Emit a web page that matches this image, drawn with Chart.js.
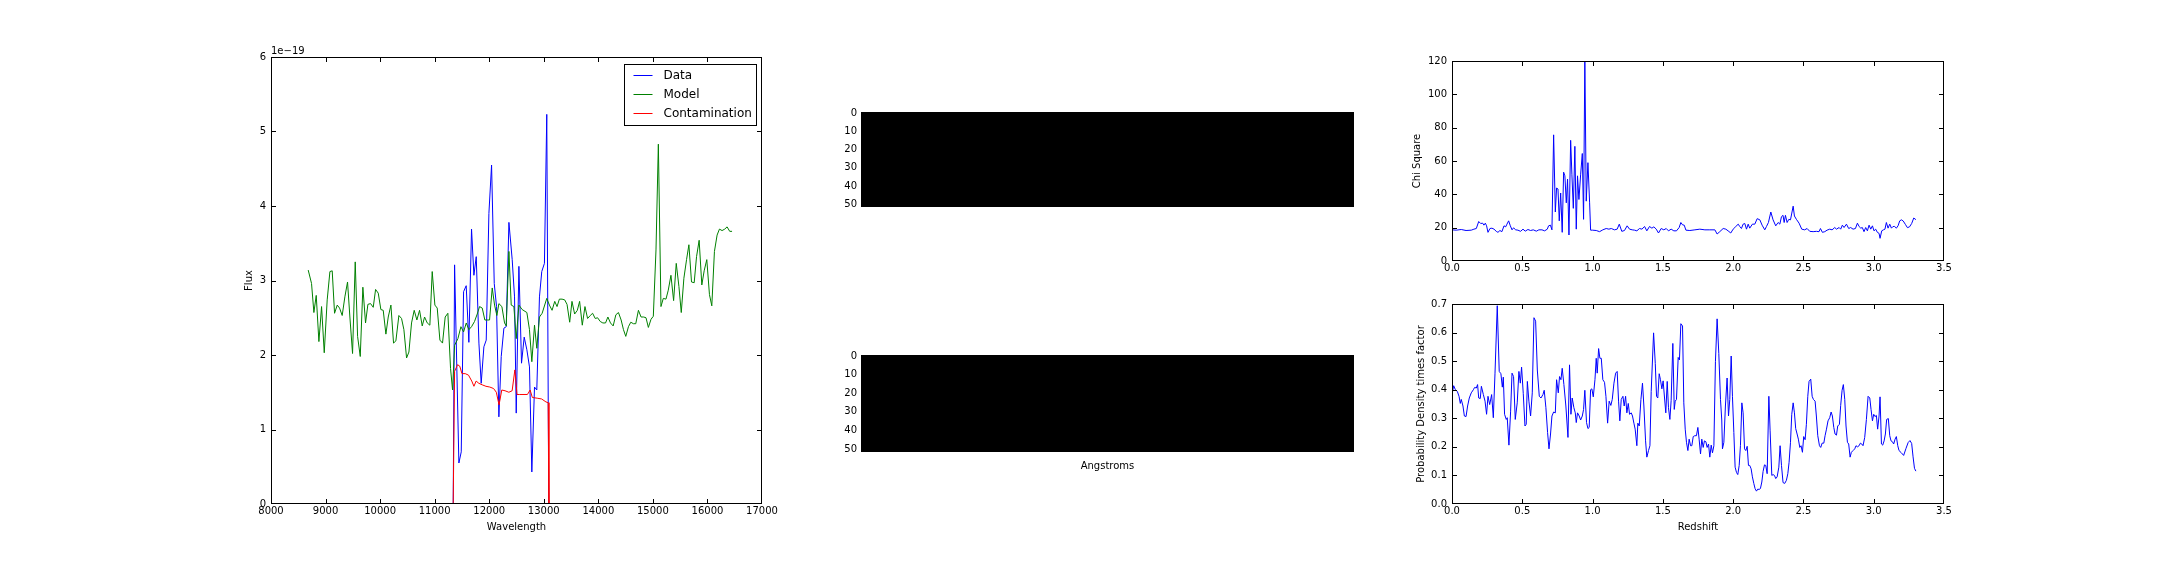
<!DOCTYPE html>
<html><head><meta charset="utf-8">
<script src="https://cdn.jsdelivr.net/npm/chart.js@4.4.1/dist/chart.umd.min.js"></script>
<style>
html,body{margin:0;padding:0;background:#fff;}
#fig{position:relative;width:2160px;height:576px;background:#fff;overflow:hidden;}
canvas{position:absolute;}
</style></head><body><div id="fig"></div>
<script>
// ---------------- DATA ----------------
// Spectrum panel (flux in units of 1e-19)
const fluxOffsetLabel = '1e\u221219';
const modelWavelength = [8682,8743,8786,8829,8878,8927,8976,9030,9080,9122,9165,9214,9257,9305,9354,9403,9446,9495,9544,9587,9636,9684,9733,9776,9825,9874,9917,9966,10014,10057,10106,10149,10198,10246,10289,10344,10393,10436,10485,10528,10576,10625,10674,10723,10772,10815,10864,10912,10955,11004,11047,11096,11144,11193,11242,11291,11328,11365,11426,11481,11530,11579,11627,11676,11731,11780,11823,11872,11920,11963,12006,12055,12098,12140,12177,12232,12281,12312,12361,12403,12452,
12495,12544,12604,12690,12738,12781,12830,12872,12921,12970,13055,13103,13152,13201,13243,13286,13335,13383,13426,13475,13517,13566,13615,13657,13706,13755,13803,13852,13895,13943,13986,14035,14083,14132,14175,14223,14272,14321,14369,14418,14461,14503,14552,14595,14643,14686,14735,14783,14832,14874,14917,14966,15008,15057,15100,15148,15191,15240,15282,15331,15380,15428,15477,15520,15568,15617,15660,15708,15757,15800,15848,15897,15940,15988,16037,16080,16128,16177,16220,16268,16317,16360,16408,16451];
const modelFlux = [3.14,2.96,2.57,2.80,2.18,2.65,2.03,2.74,3.12,3.13,2.56,2.67,2.63,2.53,2.78,2.98,2.51,2.02,3.25,2.25,1.98,2.91,2.43,2.68,2.69,2.64,2.88,2.83,2.61,2.60,2.28,2.51,2.67,2.16,2.19,2.53,2.49,2.34,1.96,2.04,2.43,2.60,2.47,2.60,2.39,2.51,2.43,2.40,3.12,2.67,2.63,2.20,2.16,2.51,2.56,1.82,1.53,2.13,2.22,2.38,2.31,2.43,2.34,2.38,2.45,2.55,2.65,2.63,2.47,2.47,2.47,2.90,2.67,2.53,2.69,2.65,2.43,2.39,3.39,2.67,2.65,
2.22,2.67,2.61,2.57,2.34,1.91,2.40,2.09,2.51,2.56,2.76,2.67,2.60,2.72,2.65,2.75,2.75,2.74,2.68,2.44,2.72,2.55,2.60,2.72,2.40,2.65,2.49,2.53,2.56,2.49,2.50,2.45,2.43,2.43,2.51,2.43,2.39,2.54,2.57,2.47,2.34,2.25,2.38,2.44,2.42,2.42,2.60,2.51,2.51,2.50,2.37,2.48,2.52,3.41,4.83,2.65,2.76,2.75,2.87,3.07,2.73,3.23,2.92,2.57,3.03,3.28,3.48,2.98,2.97,3.32,3.54,2.94,3.13,3.28,2.81,2.66,3.39,3.61,3.69,3.67,3.69,3.72,3.66,3.66];
const dataWavelength = [8682,11340,11365,11444,11487,11530,11578,11627,11676,11719,11762,11811,11853,11902,11945,11994,12043,12092,12134,12177,12220,12269,12312,12361,12421,12464,12495,12544,12592,12641,12690,12738,12781,12830,12872,12921,12963,13012,13055,13091,16451];
const dataFlux = [0,0,3.21,0.55,0.70,2.85,2.93,2.17,3.69,3.07,3.32,2.16,1.62,2.11,2.20,3.90,4.55,2.96,2.65,1.17,1.98,2.36,2.38,3.78,3.28,2.78,1.22,3.19,1.89,2.24,2.07,1.84,0.43,1.57,1.53,2.78,3.12,3.23,5.23,0,0];
const contamWavelength = [8682,11340,11365,11420,11460,11500,11560,11620,11680,11720,11760,11810,11870,11940,12010,12080,12130,12180,12230,12290,12360,12420,12470,12510,12560,12700,12750,12790,12880,12960,13040,13080,13095,16451];
const contamFlux = [0,0,1.78,1.87,1.85,1.75,1.75,1.73,1.65,1.58,1.65,1.62,1.60,1.58,1.57,1.55,1.50,1.33,1.53,1.52,1.50,1.52,1.80,1.47,1.47,1.47,1.53,1.43,1.42,1.41,1.37,1.36,0,0];
const wavelengthTicks = [8000,9000,10000,11000,12000,13000,14000,15000,16000,17000];
const fluxTicks = [0,1,2,3,4,5,6];

// Image panels (all-black 2D images)
const imageRows = 52;
const imageCols = 259;
const imageRowTicks = [0,10,20,30,40,50];

// Redshift panels
const chiRedshift = [0.000,0.030,0.066,0.100,0.137,0.156,0.173,0.190,0.204,0.218,0.227,0.237,0.246,0.256,0.270,0.284,0.299,0.315,0.327,0.341,0.355,0.370,0.382,0.391,0.403,0.415,0.427,0.438,0.453,0.469,0.488,0.505,0.521,0.540,0.559,0.578,0.600,0.618,0.640,0.659,0.678,0.687,0.700,0.711,0.723,0.735,0.744,0.754,0.763,0.773,0.784,0.794,0.803,0.813,0.822,0.832,0.844,0.853,0.863,0.874,0.884,0.893,0.903,0.915,0.927,0.936,0.945,0.955,0.967,0.979,0.986,1.000,1.026,1.050,1.073,1.097,1.116,1.133,1.156,1.175,1.190,1.208,1.227,1.246,1.263,1.282,1.299,1.315,1.334,1.351,1.370,1.386,1.405,1.422,1.436,1.453,1.469,1.488,1.507,1.524,1.540,1.559,1.578,
1.597,1.616,1.628,1.640,1.652,1.664,1.692,1.728,1.763,1.799,1.834,1.870,1.886,1.905,1.929,1.948,1.964,1.983,2.000,2.019,2.036,2.047,2.059,2.071,2.083,2.095,2.107,2.118,2.137,2.154,2.171,2.190,2.206,2.225,2.237,2.251,2.268,2.284,2.303,2.320,2.332,2.344,2.355,2.363,2.372,2.384,2.396,2.408,2.427,2.436,2.450,2.469,2.488,2.509,2.526,2.545,2.569,2.592,2.611,2.621,2.635,2.652,2.668,2.687,2.704,2.723,2.735,2.754,2.765,2.777,2.789,2.806,2.822,2.836,2.853,2.870,2.884,2.896,2.908,2.919,2.931,2.943,2.955,2.967,2.979,2.991,3.002,3.014,3.026,3.038,3.045,3.057,3.069,3.080,3.090,3.102,3.114,3.126,3.137,3.149,3.161,3.173,3.185,3.197,3.210,3.225,3.240,3.255,3.270,3.285,3.300];
const chiSquare = [18.7,18.5,18.9,18.3,18.5,19.1,19.5,23.7,22.5,22.7,21.5,22.7,21.1,17.2,19.5,19.7,19.1,17.8,17.2,18.3,17.6,21.1,20.5,22.1,24.1,21.1,18.7,19.9,18.7,18.5,17.8,19.1,17.9,18.9,18.3,18.7,17.9,18.7,18.7,18.1,19.1,21.1,21.5,18.7,75.7,29.4,43.8,43.2,24.1,40.8,17.2,53.3,51.1,34.9,49.1,15.6,72.4,51.7,31.6,68.8,19.1,51.1,36.9,51.7,64.5,25.0,122,35.9,59.0,34.9,18.5,18.5,18.3,17.6,18.7,19.5,19.1,19.5,18.7,19.1,22.1,17.8,18.3,21.1,19.1,18.7,18.5,18.1,19.5,19.1,20.7,18.1,20.7,19.7,20.5,19.1,16.8,19.5,18.7,19.5,18.1,19.1,18.1,
18.1,20.1,23.1,21.7,21.5,18.5,18.3,18.7,19.1,18.7,18.7,18.7,16.2,17.6,19.5,19.1,18.1,16.8,19.1,20.7,22.1,20.7,19.5,22.1,22.5,19.1,22.1,19.7,22.1,22.1,25.4,24.7,21.5,18.7,20.7,23.1,29.4,24.7,21.1,23.1,22.1,26.6,27.4,23.1,27.4,23.1,25.0,24.7,32.9,27.0,25.0,22.7,19.1,18.7,19.5,17.8,17.6,17.8,17.6,19.5,17.2,17.6,18.5,19.1,18.7,20.1,19.1,20.1,19.1,21.5,20.1,22.1,19.5,20.1,19.1,19.5,22.7,20.7,19.7,20.1,17.6,20.1,18.1,21.5,19.1,21.1,18.1,19.1,17.2,16.6,13.6,18.1,18.7,19.1,23.1,19.7,22.1,19.7,20.7,20.7,19.7,21.1,24.1,24.7,24.0,22.0,20.0,20.5,22.5,25.8,24.8];
const pdfRedshift = [0.000,0.012,0.024,0.038,0.050,0.059,0.066,0.078,0.088,0.100,0.111,0.123,0.137,0.152,0.161,0.173,0.182,0.190,0.201,0.209,0.223,0.235,0.246,0.256,0.268,0.282,0.294,0.306,0.322,0.336,0.348,0.358,0.365,0.374,0.386,0.393,0.405,0.417,0.427,0.438,0.450,0.464,0.476,0.486,0.495,0.507,0.519,0.528,0.536,0.547,0.559,0.571,0.583,0.595,0.607,0.621,0.633,0.647,0.656,0.668,0.680,0.690,0.701,0.711,0.723,0.735,0.744,0.756,0.765,0.775,0.784,0.796,0.810,0.825,0.836,0.846,0.855,0.867,0.877,0.884,0.893,0.905,0.915,0.927,0.936,0.945,0.957,0.967,0.976,0.986,0.995,1.005,1.017,1.026,1.033,1.043,1.052,1.062,1.073,1.085,1.095,1.107,1.118,1.130,1.140,1.152,1.164,1.175,1.185,1.194,1.204,1.216,1.225,1.235,1.244,1.254,1.263,1.275,1.284,1.294,1.303,1.315,1.322,1.332,1.344,1.355,1.365,1.377,1.386,1.398,1.408,1.417,1.434,1.446,1.455,1.464,1.474,1.483,1.493,1.502,1.512,1.521,1.531,1.540,1.550,1.559,1.571,1.581,
1.588,1.597,1.609,1.618,1.628,1.640,1.649,1.659,1.668,1.678,1.687,1.697,1.706,1.716,1.727,1.739,1.749,1.758,1.768,1.777,1.787,1.796,1.806,1.815,1.825,1.834,1.844,1.853,1.863,1.874,1.886,1.898,1.910,1.919,1.924,1.934,1.945,1.957,1.967,1.976,1.986,1.995,2.005,2.014,2.024,2.033,2.043,2.052,2.062,2.071,2.081,2.090,2.100,2.109,2.118,2.128,2.137,2.147,2.156,2.166,2.175,2.185,2.194,2.204,2.213,2.223,2.232,2.242,2.254,2.263,2.275,2.284,2.294,2.303,2.313,2.325,2.334,2.344,2.355,2.367,2.379,2.389,2.398,2.408,2.417,2.427,2.436,2.445,2.455,2.464,2.474,2.483,2.493,2.502,2.512,2.521,2.531,2.540,2.552,2.562,2.571,2.583,2.592,2.602,2.614,2.623,2.633,2.645,2.654,2.664,2.675,2.687,2.697,2.706,2.716,2.725,2.735,2.744,2.756,2.765,2.775,2.784,2.794,2.803,2.813,2.822,2.832,2.841,2.853,2.865,2.874,2.884,2.896,2.905,2.915,2.924,2.936,2.948,2.960,2.972,2.981,2.991,3.000,3.009,3.019,3.028,3.038,3.045,3.055,3.064,3.074,3.083,3.092,3.104,3.114,3.123,3.133,3.142,3.152,3.161,3.171,3.180,3.195,3.213,3.230,3.245,3.258,3.270,3.280,3.290,3.300];
const pdfValue = [0.383,0.414,0.400,0.394,0.377,0.352,0.366,0.343,0.308,0.306,0.343,0.371,0.389,0.400,0.408,0.406,0.418,0.371,0.369,0.412,0.383,0.360,0.314,0.377,0.348,0.383,0.302,0.458,0.694,0.464,0.456,0.409,0.444,0.314,0.296,0.302,0.206,0.325,0.458,0.446,0.296,0.354,0.464,0.423,0.479,0.386,0.273,0.279,0.429,0.360,0.308,0.389,0.652,0.640,0.469,0.377,0.371,0.383,0.398,0.337,0.250,0.193,0.245,0.308,0.322,0.319,0.435,0.389,0.446,0.435,0.475,0.418,0.343,0.233,0.487,0.314,0.371,0.337,0.319,0.285,0.319,0.308,0.294,0.308,0.331,0.398,0.285,0.264,0.268,0.400,0.403,0.375,0.435,0.510,0.458,0.544,0.510,0.510,0.435,0.426,0.377,0.283,0.360,0.345,0.366,0.423,0.458,0.464,0.360,0.291,0.366,0.377,0.343,0.377,0.319,0.352,0.314,0.319,0.308,0.283,0.262,0.204,0.283,0.273,0.366,0.423,0.343,0.221,0.164,0.187,0.204,0.394,0.599,0.492,0.377,0.371,0.456,0.435,0.403,0.431,0.371,0.319,0.429,0.337,0.296,0.363,0.562,0.331,
0.360,0.366,0.513,0.504,0.631,0.623,0.354,0.262,0.216,0.187,0.227,0.204,0.204,0.236,0.239,0.239,0.268,0.227,0.175,0.227,0.198,0.221,0.218,0.198,0.210,0.164,0.206,0.179,0.204,0.498,0.648,0.527,0.366,0.294,0.193,0.216,0.343,0.441,0.308,0.366,0.518,0.377,0.250,0.129,0.110,0.103,0.135,0.204,0.354,0.319,0.193,0.187,0.202,0.135,0.135,0.123,0.095,0.072,0.054,0.045,0.052,0.051,0.054,0.077,0.114,0.137,0.135,0.106,0.377,0.256,0.100,0.103,0.100,0.089,0.095,0.129,0.204,0.135,0.075,0.072,0.083,0.106,0.146,0.216,0.314,0.354,0.319,0.264,0.245,0.227,0.198,0.204,0.181,0.236,0.225,0.279,0.377,0.429,0.437,0.377,0.366,0.360,0.308,0.239,0.204,0.198,0.213,0.213,0.239,0.262,0.291,0.302,0.322,0.308,0.268,0.245,0.241,0.273,0.279,0.345,0.398,0.418,0.366,0.273,0.216,0.210,0.164,0.181,0.187,0.193,0.204,0.200,0.204,0.213,0.210,0.204,0.233,0.296,0.377,0.371,0.331,0.291,0.314,0.306,0.310,0.262,0.308,0.375,0.210,0.206,0.221,0.245,0.296,0.299,0.239,0.221,0.218,0.210,0.227,0.236,0.204,0.187,0.180,0.170,0.195,0.215,0.222,0.212,0.165,0.125,0.115];
const redshiftTicks = [0,0.5,1,1.5,2,2.5,3,3.5];
const chiTicks = [0,20,40,60,80,100,120];
const pdfTicks = [0,0.1,0.2,0.3,0.4,0.5,0.6,0.7];

// ---------------- LAYOUT ----------------
const FONT = '"DejaVu Sans", sans-serif';
Chart.defaults.font.family = FONT;
Chart.defaults.font.size = 10;
Chart.defaults.color = '#000';

const xy = (xs, ys) => xs.map((x, i) => ({x, y: ys[i]}));

const framePlugin = {
  id: 'mplFrame',
  afterDatasetsDraw(chart, args, opts) {
    const {ctx, chartArea: a} = chart;
    ctx.save();
    if (opts.frame) {
      ctx.fillStyle = '#000';
      const L = Math.round(a.left), R = Math.round(a.right) - 1;
      const T = Math.round(a.top), B = Math.round(a.bottom) - 1;
      ctx.fillRect(L, T, R - L + 1, 1);
      ctx.fillRect(L, B, R - L + 1, 1);
      ctx.fillRect(L, T, 1, B - T + 1);
      ctx.fillRect(R, T, 1, B - T + 1);
      const tl = 4;
      chart.scales.x.ticks.forEach(t => {
        const p = Math.min(R, Math.round(chart.scales.x.getPixelForValue(t.value)));
        ctx.fillRect(p, B - tl, 1, tl);
        ctx.fillRect(p, T + 1, 1, tl);
      });
      chart.scales.y.ticks.forEach(t => {
        const p = Math.min(B, Math.round(chart.scales.y.getPixelForValue(t.value)));
        ctx.fillRect(L + 1, p, tl, 1);
        ctx.fillRect(R - tl, p, tl, 1);
      });
    }
    if (opts.offsetText) {
      ctx.fillStyle = '#000';
      ctx.font = '10px ' + FONT;
      ctx.textAlign = 'left'; ctx.textBaseline = 'alphabetic';
      ctx.fillText(opts.offsetText, a.left, a.top - 3);
    }
    if (opts.legend) {
      const w = 132, h = 61;
      const x0 = Math.round(a.right - 6 - w) + 0.5, y0 = Math.round(a.top + 7) + 0.5;
      ctx.fillStyle = '#fff'; ctx.fillRect(x0, y0, w, h);
      ctx.strokeStyle = '#000'; ctx.lineWidth = 1; ctx.strokeRect(x0, y0, w, h);
      ctx.font = '12px ' + FONT; ctx.textBaseline = 'middle'; ctx.textAlign = 'left';
      chart.data.datasets.forEach((ds, i) => {
        const y = Math.round(y0 + 10 + i * 19.3) + 0.5;
        ctx.strokeStyle = ds.borderColor; ctx.beginPath();
        ctx.moveTo(x0 + 9, y); ctx.lineTo(x0 + 28, y); ctx.stroke();
        ctx.fillStyle = '#000'; ctx.fillText(ds.label, x0 + 39, y);
      });
    }
    ctx.restore();
  }
};

function scale(o) {
  return {
    type: 'linear', min: o.min, max: o.max, bounds: 'data', reverse: !!o.reverse,
    afterBuildTicks: s => { s.ticks = (o.ticks || []).map(v => ({value: v})); },
    ticks: {display: o.showLabels !== false, autoSkip: false, maxRotation: 0, minRotation: 0,
            padding: o.pad, callback: v => o.fmt(v), font: {size: 10, family: FONT}, color: '#000'},
    grid: {display: false, drawTicks: false},
    border: {display: false},
    title: o.title ? {display: true, text: o.title, font: {size: 10, family: FONT}, color: '#000', padding: o.titlePad} : {display: false},
    afterFit: s => { if (s.isHorizontal()) s.height = o.size; else s.width = o.size; }
  };
}

function makeChart(box, m, cfg) {
  const c = document.createElement('canvas');
  const W = box.R - box.L + m.l + m.r, H = box.B - box.T + m.t + m.b;
  c.width = W; c.height = H;
  c.style.left = (box.L - m.l) + 'px'; c.style.top = (box.T - m.t) + 'px';
  c.style.width = W + 'px'; c.style.height = H + 'px';
  document.getElementById('fig').appendChild(c);
  cfg.options = Object.assign({
    responsive: false, animation: false, devicePixelRatio: 1,
    layout: {padding: {left: 0, top: m.t, right: m.r, bottom: 0}},
    events: []
  }, cfg.options);
  cfg.options.plugins = Object.assign({legend: {display: false}, tooltip: {enabled: false}}, cfg.options.plugins);
  cfg.plugins = [framePlugin];
  return new Chart(c, cfg);
}

const lineDs = (label, pts, color, order) => ({
  label, data: pts, borderColor: color, backgroundColor: color, borderWidth: 1,
  pointRadius: 0, tension: 0, fill: false, order
});

const fmtInt = v => String(v);
const fmt1 = v => v.toFixed(1);

// Spectrum panel
makeChart({L: 271, T: 57, R: 762, B: 504}, {l: 40, t: 12, r: 30, b: 30}, {
  type: 'line',
  data: {datasets: [
    lineDs('Data', xy(dataWavelength, dataFlux), '#0000ff', 3),
    lineDs('Model', xy(modelWavelength, modelFlux), '#008000', 2),
    lineDs('Contamination', xy(contamWavelength, contamFlux), '#ff0000', 1)
  ]},
  options: {
    scales: {
      x: scale({min: 8000, max: 17000, ticks: wavelengthTicks, fmt: fmtInt, pad: 1.5, size: 30, title: 'Wavelength', titlePad: {top: 0, bottom: 0.5}}),
      y: scale({min: 0, max: 6, ticks: fluxTicks, fmt: fmtInt, pad: 5, size: 40, title: 'Flux', titlePad: {top: 12, bottom: 0}})
    },
    plugins: {mplFrame: {frame: true, offsetText: fluxOffsetLabel, legend: true}}
  }
});

// Image panels
function imagePanel(box, m, title) {
  makeChart(box, m, {
    type: 'line',
    data: {datasets: [{
      label: 'image',
      data: [{x: -0.5, y: imageRows - 0.5}, {x: imageCols - 0.5, y: imageRows - 0.5}],
      borderWidth: 0, borderColor: '#000', backgroundColor: '#000', pointRadius: 0,
      fill: {value: -0.5}
    }]},
    options: {
      scales: {
        x: scale({min: -0.5, max: imageCols - 0.5, ticks: [], fmt: fmtInt, pad: 0, size: m.b, showLabels: false,
                  title: title, titlePad: {top: 0, bottom: 2}}),
        y: scale({min: -0.5, max: imageRows - 0.5, reverse: true, ticks: imageRowTicks, fmt: fmtInt, pad: 4, size: m.l})
      },
      plugins: {mplFrame: {frame: false}}
    }
  });
}
imagePanel({L: 861, T: 110, R: 1354, B: 209}, {l: 30, t: 8, r: 10, b: 8}, null);
imagePanel({L: 861, T: 353, R: 1354, B: 452}, {l: 30, t: 8, r: 10, b: 22}, 'Angstroms');

// Chi square panel
makeChart({L: 1452, T: 58, R: 1944, B: 261}, {l: 45, t: 8, r: 30, b: 16}, {
  type: 'line',
  data: {datasets: [lineDs('Chi Square', xy(chiRedshift, chiSquare), '#0000ff', 1)]},
  options: {
    scales: {
      x: scale({min: 0, max: 3.5, ticks: redshiftTicks, fmt: fmt1, pad: 1.5, size: 16}),
      y: scale({min: 0, max: 120, ticks: chiTicks, fmt: fmtInt, pad: 5, size: 45, title: 'Chi Square', titlePad: {top: 4.6, bottom: 0}})
    },
    plugins: {mplFrame: {frame: true}}
  }
});

// Probability density panel
makeChart({L: 1452, T: 301, R: 1944, B: 504}, {l: 45, t: 8, r: 30, b: 30}, {
  type: 'line',
  data: {datasets: [lineDs('Probability', xy(pdfRedshift, pdfValue), '#0000ff', 1)]},
  options: {
    scales: {
      x: scale({min: 0, max: 3.5, ticks: redshiftTicks, fmt: fmt1, pad: 1.5, size: 30, title: 'Redshift', titlePad: {top: 0, bottom: 0.5}}),
      y: scale({min: 0, max: 0.7, ticks: pdfTicks, fmt: fmt1, pad: 5, size: 45, title: 'Probability Density times factor', titlePad: {top: 8.7, bottom: 0}})
    },
    plugins: {mplFrame: {frame: true}}
  }
});
</script>
</body></html>
